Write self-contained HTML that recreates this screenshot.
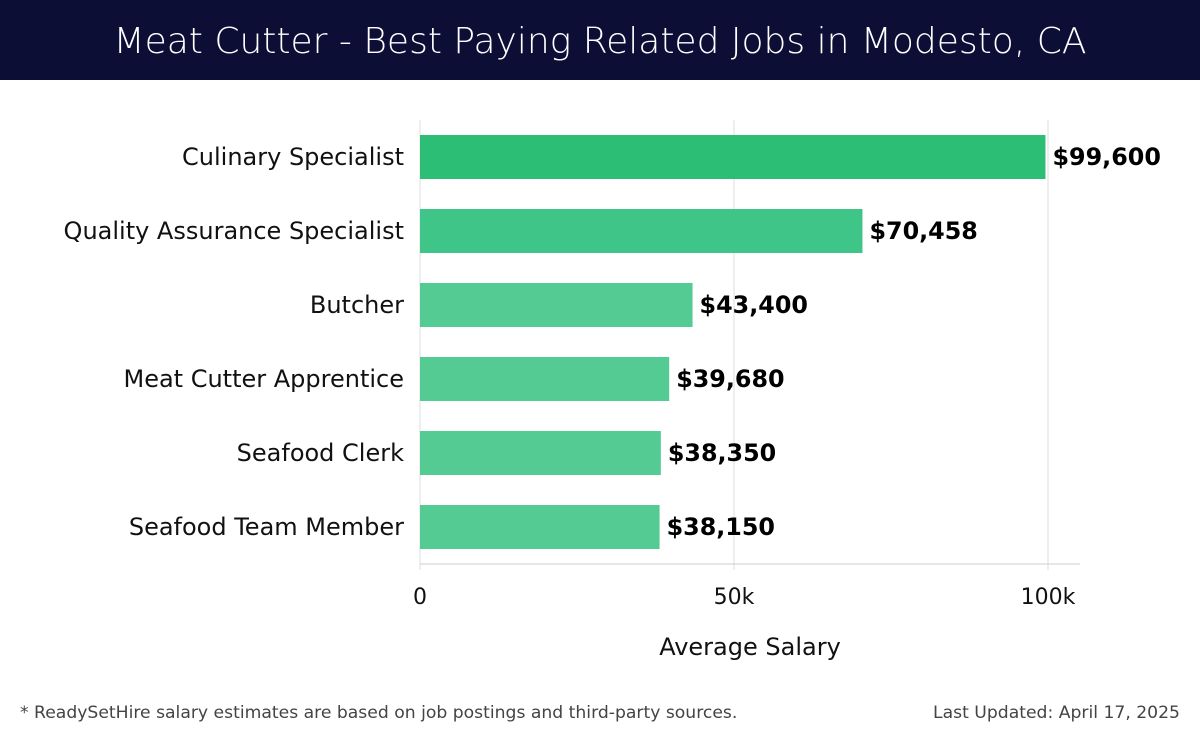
<!DOCTYPE html>
<html><head><meta charset="utf-8"><style>
body{margin:0;width:1200px;height:740px;background:#fff;font-family:"DejaVu Sans","Liberation Sans",sans-serif;overflow:hidden;position:relative}
#title{position:absolute;left:0;top:0;width:1200px;height:80px;background:#0d0e36;color:#fff;font-size:36px;text-align:center;line-height:84px;font-weight:300}
.foot{position:absolute;top:703px;font-size:17.2px;color:#444}
</style></head><body>
<div id="title">Meat Cutter - Best Paying Related Jobs in Modesto, CA</div>
<svg id="chart" width="1200" height="740" style="position:absolute;left:0;top:0"></svg>
<div class="foot" style="left:20px">* ReadySetHire salary estimates are based on job postings and third-party sources.</div>
<div class="foot" style="right:20px">Last Updated: April 17, 2025</div>
<script>
const categories=["Culinary Specialist","Quality Assurance Specialist","Butcher","Meat Cutter Apprentice","Seafood Clerk","Seafood Team Member"];
const values=[99600,70458,43400,39680,38350,38150];
const valueLabels=["$99,600","$70,458","$43,400","$39,680","$38,350","$38,150"];
const ticks=[0,50000,100000];
const tickLabels=["0","50k","100k"];
const colors=["#2dbe76","#40c588","#55cb94","#55cb94","#55cb94","#55cb94"];
const NS="http://www.w3.org/2000/svg";
const svg=document.getElementById('chart');
const x=v=>420+v*(628/100000);
const y=i=>135+i*74;
const bh=44;
function mk(t,a){const e=document.createElementNS(NS,t);for(const k in a)e.setAttribute(k,a[k]);svg.appendChild(e);return e;}
ticks.forEach((t,i)=>{
 const g=mk('line',{x1:x(t),x2:x(t),y1:120,y2:570,stroke:'#ddd','stroke-width':1});
 
 
 const l=mk('text',{x:x(t),y:604,'text-anchor':'middle','font-size':22,fill:'#111'});
 l.textContent=tickLabels[i];
 
 
});
const ax=mk('line',{x1:420,x2:1080,y1:564,y2:564,stroke:'#ccc','stroke-width':1});


categories.forEach((c,i)=>{
 const r=mk('rect',{x:x(0),y:y(i),width:x(values[i])-x(0),height:bh,fill:colors[i]});
 
 
 const l=mk('text',{x:404,y:y(i)+bh/2+8,'text-anchor':'end','font-size':24,fill:'#111'});
 l.textContent=c;
 
 
 const v=mk('text',{x:x(values[i])+7,y:y(i)+bh/2+8,'font-size':23.8,'font-weight':'bold',fill:'#000'});
 v.textContent=valueLabels[i];
 
 
});
const at=mk('text',{x:750,y:655,'text-anchor':'middle','font-size':24,fill:'#111'});
at.textContent="Average Salary";


</script>
</body></html>
